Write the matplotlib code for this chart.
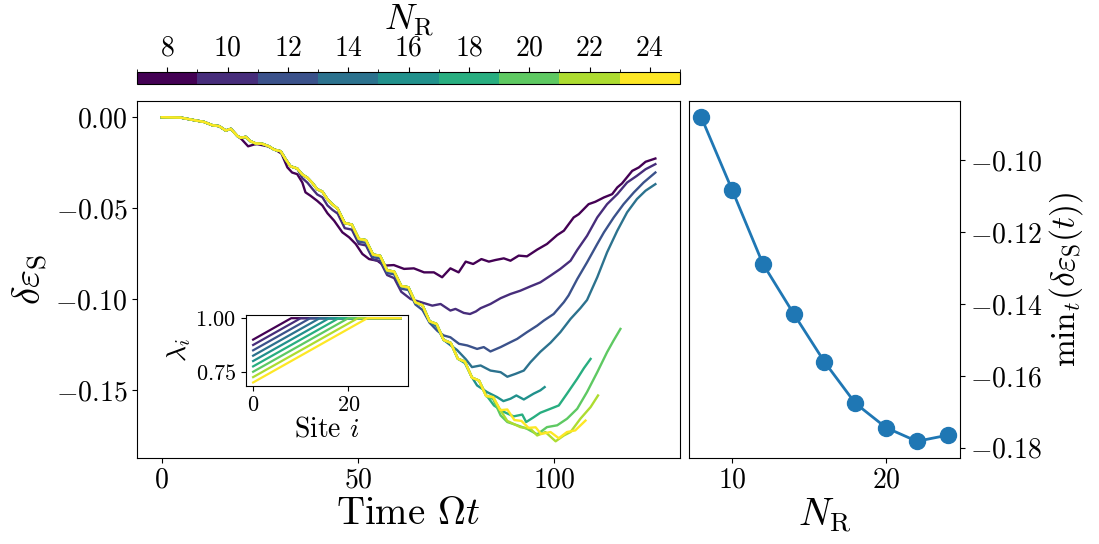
import matplotlib
matplotlib.use("Agg")
import matplotlib.pyplot as plt
import numpy as np
from matplotlib.colors import ListedColormap, BoundaryNorm
from matplotlib.cm import ScalarMappable
from matplotlib.ticker import MultipleLocator

plt.rcParams['font.family'] = 'serif'
plt.rcParams['font.serif'] = ['cmr10']
plt.rcParams['mathtext.fontset'] = 'cm'
plt.rcParams['axes.formatter.use_mathtext'] = True
plt.rcParams['axes.unicode_minus'] = True

# system sizes
n_r = [8, 10, 12, 14, 16, 18, 20, 22, 24]

# N_R = 24 curve; the other curves run on it until their own part starts
t_env = [0, 4.8, 8.2, 10.8, 12.9, 14.6, 16.3, 17.6, 19.3, 20.1, 21.4, 22.6, 23.9,
         25.6, 27.3, 28.6, 30.3, 31.6, 32.8, 34.5, 35.8, 37.1, 38.3, 39.6, 40.9,
         42.2, 43.5, 44.8, 46.6, 48.4, 50.2, 52.0, 53.8, 55.6, 57.4, 59.2, 61.0,
         62.8, 64.6, 66.4, 68.2, 70.0, 71.8, 73.6, 75.4, 77.2, 79.0, 80.8, 82.6,
         84.4, 86.2, 88.0, 89.8, 91.6, 93.4, 95.2, 96.6, 99.0, 101.1, 103.2,
         105.3, 107.9]
v_env = [0.0, -0.0002, -0.0016, -0.0026, -0.0044, -0.0049, -0.0073, -0.0064,
         -0.0104, -0.0113, -0.0108, -0.0132, -0.0144, -0.0146, -0.0160, -0.0178,
         -0.0187, -0.0233, -0.0270, -0.0282, -0.0315, -0.0333, -0.0360, -0.0396,
         -0.0409, -0.0451, -0.0480, -0.0503, -0.0582, -0.0590, -0.0669, -0.0676,
         -0.0755, -0.0762, -0.0842, -0.0849, -0.0928, -0.0935, -0.1018, -0.1034,
         -0.1122, -0.1137, -0.1225, -0.1241, -0.1328, -0.1344, -0.1432, -0.1448,
         -0.1533, -0.1539, -0.1611, -0.1607, -0.1665, -0.1670, -0.1708, -0.1705,
         -0.1742, -0.1731, -0.1765, -0.1731, -0.1722, -0.1668]

# own part of each curve (after it leaves the N_R = 24 curve)
t_own = {
    8: [19.3, 20.3, 22.0, 23.5, 24.3, 27.0, 29.4, 30.5, 32.0, 33.2, 34.5, 35.8,
        36.6, 37.9, 39.6, 40.9, 42.2, 43.9, 46.0, 47.7, 49.4, 51.1, 52.8, 54.9,
        56.6, 59.1, 61.7, 64.2, 66.8, 69.3, 71.4, 73.5, 75.6, 77.4, 79.3, 81.4,
        83.3, 85.0, 87.1, 88.8, 90.9, 93.0, 95.6, 98.1, 100.7, 102.4, 104.9,
        106.2, 108.7, 110.4, 112.6, 114.7, 116.0, 117.2, 119.8, 121.5, 123.2,
        125.7],
    10: [35.8, 37.1, 38.3, 39.6, 40.9, 42.2, 43.5, 44.8, 46.6, 48.4, 50.2, 52.0,
         53.8, 55.6, 57.4, 59.2, 61.0, 62.5, 63.4, 66.0, 68.9, 71.0, 73.5, 74.8,
         76.9, 78.5, 80.0, 81.2, 83.7, 86.3, 88.8, 91.3, 93.9, 96.4, 99.0, 101.5,
         104.1, 105.8, 108.3, 110.9, 113.4, 116.0, 118.5, 121.0, 123.2, 125.7],
    12: [50.2, 52.0, 53.8, 55.6, 57.4, 59.2, 61.0, 62.8, 64.6, 66.4, 68.2, 70.2,
         71.8, 73.5, 75.7, 77.8, 80.3, 82.0, 83.7, 86.3, 88.8, 90.5, 93.0, 95.6,
         97.3, 99.8, 102.4, 103.6, 105.8, 108.3, 110.9, 112.6, 115.1, 117.6,
         120.2, 122.7, 125.7],
    14: [70.0, 71.8, 73.6, 75.2, 77.4, 79.0, 81.2, 83.7, 86.3, 88.0, 90.1, 92.2,
         93.9, 96.4, 99.0, 101.5, 104.1, 106.6, 108.3, 110.9, 113.4, 116.0, 118.5,
         121.0, 123.2, 125.7],
    16: [77.2, 79.0, 80.3, 82.9, 85.4, 87.0, 88.8, 90.3, 92.2, 94.7, 96.4, 97.5],
    18: [82.6, 84.6, 87.1, 89.6, 91.8, 92.8, 94.7, 96.4, 99.0, 101.1, 103.2, 105.8,
         107.5, 109.2],
    20: [84.4, 86.3, 88.0, 90.5, 93.0, 95.6, 98.1, 100.7, 103.2, 105.8, 108.3,
         110.9, 113.4, 115.0, 116.8],
    22: [86.2, 88.0, 91.3, 93.9, 95.6, 97.7, 100.3, 102.4, 104.1, 106.6, 109.2,
         111.1],
}
v_own = {
    8: [-0.0104, -0.0120, -0.0160, -0.0150, -0.0148, -0.0160, -0.0185, -0.0200,
        -0.0276, -0.0304, -0.0313, -0.0359, -0.0413, -0.0432, -0.0460, -0.0485,
        -0.0528, -0.0569, -0.0633, -0.0660, -0.0697, -0.0752, -0.0780, -0.0789,
        -0.0816, -0.0813, -0.0834, -0.0831, -0.0853, -0.0853, -0.0880, -0.0831,
        -0.0853, -0.0794, -0.0807, -0.0780, -0.0794, -0.0785, -0.0776, -0.0789,
        -0.0761, -0.0765, -0.0728, -0.0697, -0.0648, -0.0624, -0.0551, -0.0533,
        -0.0478, -0.0465, -0.0441, -0.0423, -0.0386, -0.0364, -0.0295, -0.0276,
        -0.0245, -0.0227],
    10: [-0.0335, -0.0360, -0.0392, -0.0425, -0.0440, -0.0485, -0.0510, -0.0530,
         -0.0610, -0.0618, -0.0697, -0.0705, -0.0782, -0.0792, -0.0868, -0.0885,
         -0.0960, -0.0985, -0.1000, -0.1017, -0.1036, -0.1027, -0.1063, -0.1054,
         -0.1076, -0.1082, -0.1068, -0.1050, -0.1027, -0.0995, -0.0972, -0.0954,
         -0.0930, -0.0908, -0.0871, -0.0834, -0.0789, -0.0730, -0.0652, -0.0551,
         -0.0478, -0.0423, -0.0359, -0.0322, -0.0286, -0.0258],
    12: [-0.0684, -0.0691, -0.0770, -0.0777, -0.0857, -0.0864, -0.0943, -0.0950,
         -0.1030, -0.1060, -0.1130, -0.1175, -0.1200, -0.1210, -0.1246, -0.1255,
         -0.1274, -0.1264, -0.1288, -0.1264, -0.1237, -0.1219, -0.1182, -0.1146,
         -0.1118, -0.1082, -0.1017, -0.0980, -0.0890, -0.0798, -0.0697, -0.0633,
         -0.0551, -0.0478, -0.0414, -0.0359, -0.0304],
    14: [-0.1150, -0.1225, -0.1255, -0.1280, -0.1330, -0.1374, -0.1365, -0.1393,
         -0.1402, -0.1427, -0.1411, -0.1393, -0.1347, -0.1290, -0.1240, -0.1182,
         -0.1109, -0.1050, -0.1005, -0.0880, -0.0743, -0.0624, -0.0523, -0.0450,
         -0.0404, -0.0368],
    16: [-0.1352, -0.1430, -0.1475, -0.1512, -0.1539, -0.1561, -0.1548, -0.1530,
         -0.1552, -0.1520, -0.1502, -0.1484],
    18: [-0.1527, -0.1585, -0.1620, -0.1645, -0.1635, -0.1676, -0.1650, -0.1625,
         -0.1603, -0.1585, -0.1520, -0.1438, -0.1380, -0.1329],
    20: [-0.1550, -0.1640, -0.1676, -0.1694, -0.1713, -0.1744, -0.1704, -0.1694,
         -0.1658, -0.1603, -0.1511, -0.1402, -0.1292, -0.1230, -0.1164],
    22: [-0.1610, -0.1670, -0.1704, -0.1713, -0.1750, -0.1731, -0.1782, -0.1750,
         -0.1731, -0.1658, -0.1594, -0.1530],
}

# right panel: minimum over time
min_vals = [-0.0880, -0.1082, -0.1288, -0.1427, -0.1561, -0.1676, -0.1744,
            -0.1782, -0.1765]

# inset: lambda_i ramps, value at site 0, reaching 1 at site N_R
lam_start = [0.900, 0.875, 0.850, 0.825, 0.800, 0.775, 0.750, 0.725, 0.700]
n_sites = 32

colors = plt.cm.viridis(np.linspace(0, 1, len(n_r)))
cmap = ListedColormap(colors)
bounds = np.arange(7, 26, 2)
norm = BoundaryNorm(bounds, cmap.N)

fig = plt.figure(figsize=(10.99, 5.44), dpi=100)
ax = fig.add_axes([0.1247, 0.159, 0.4941, 0.6553])
ax2 = fig.add_axes([0.6269, 0.159, 0.2466, 0.6553])
cax = fig.add_axes([0.1247, 0.8456, 0.4941, 0.0226])
axin = fig.add_axes([0.2236, 0.291, 0.1477, 0.130])

for k, n in enumerate(n_r):
    if n in t_own:
        t0 = t_own[n][0]
        tt = [t for t in t_env if t < t0] + t_own[n]
        vv = [v for t, v in zip(t_env, v_env) if t < t0] + v_own[n]
    else:
        tt, vv = t_env, v_env
    ax.plot(tt, vv, color=colors[k], lw=1.7)

ax.set_xlabel(r'Time $\Omega t$', fontsize=28, labelpad=2)
ax.set_ylabel(r'$\delta\varepsilon_{\rm S}$', fontsize=28)
ax.xaxis.set_major_locator(MultipleLocator(50))
ax.yaxis.set_major_locator(MultipleLocator(0.05))
ax.tick_params(labelsize=20)

# inset
for k, n in enumerate(n_r):
    axin.plot([0, n, n_sites - 1], [lam_start[k], 1.0, 1.0], color=colors[k], lw=1.6)
axin.set_xlabel(r'Site $i$', fontsize=20, labelpad=1)
axin.set_ylabel(r'$\lambda_i$', fontsize=20, labelpad=2)
axin.set_xticks([0, 20])
axin.set_yticks([0.75, 1.00])
axin.tick_params(labelsize=16)

# right panel
ax2.plot(n_r, min_vals, 'o-', color='#1f77b4', ms=11.5, lw=2)
ax2.yaxis.tick_right()
ax2.yaxis.set_label_position('right')
ax2.set_xlabel(r'$N_{\rm R}$', fontsize=28, labelpad=2)
ax2.set_ylabel(r'$\mathrm{min}_t(\delta\varepsilon_{\rm S}(t))$', fontsize=24)
ax2.xaxis.set_major_locator(MultipleLocator(10))
ax2.yaxis.set_major_locator(MultipleLocator(0.02))
ax2.tick_params(labelsize=20)

# colorbar
sm = ScalarMappable(norm=norm, cmap=cmap)
cb = fig.colorbar(sm, cax=cax, orientation='horizontal', ticks=n_r)
cax.xaxis.set_ticks_position('top')
cax.xaxis.set_label_position('top')
cb.set_label(r'$N_{\rm R}$', fontsize=26, labelpad=4)
cax.tick_params(labelsize=20)

fig.savefig('out.png', dpi=100)
